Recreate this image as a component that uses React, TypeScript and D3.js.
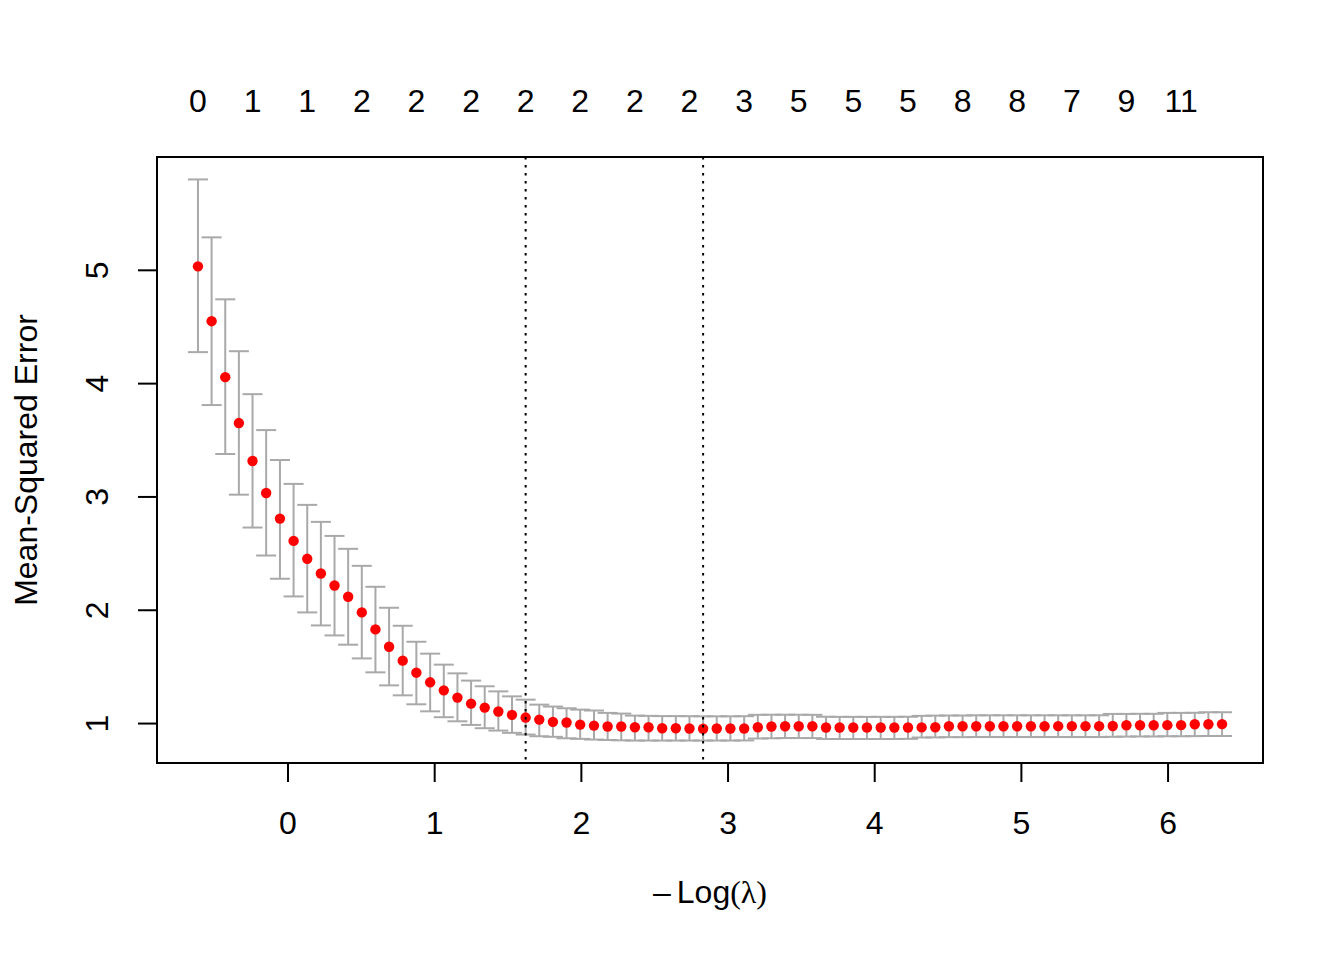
import { useEffect } from 'react'
import * as d3 from 'd3'

// -log(lambda) for each fit on the path
const negLogLambda = [
  -0.614, -0.521, -0.428, -0.335, -0.242, -0.149, -0.055, 0.038, 0.131, 0.224,
  0.317, 0.41, 0.503, 0.596, 0.689, 0.782, 0.875, 0.969, 1.062, 1.155,
  1.248, 1.341, 1.434, 1.527, 1.62, 1.713, 1.806, 1.899, 1.992, 2.086,
  2.179, 2.272, 2.365, 2.458, 2.551, 2.644, 2.737, 2.83, 2.923, 3.016,
  3.11, 3.203, 3.296, 3.389, 3.482, 3.575, 3.668, 3.761, 3.854, 3.947,
  4.041, 4.134, 4.227, 4.32, 4.413, 4.506, 4.599, 4.692, 4.785, 4.878,
  4.971, 5.065, 5.158, 5.251, 5.344, 5.437, 5.53, 5.623, 5.716, 5.809,
  5.902, 5.995, 6.089, 6.182, 6.275, 6.368,
]

// cross-validated mean-squared error
const cvm = [
  5.035, 4.551, 4.057, 3.652, 3.317, 3.035, 2.809, 2.612, 2.454, 2.324,
  2.218, 2.119, 1.981, 1.831, 1.678, 1.555, 1.449, 1.364, 1.293, 1.229,
  1.176, 1.141, 1.106, 1.077, 1.053, 1.035, 1.015, 1.009, 0.991, 0.982,
  0.974, 0.974, 0.967, 0.967, 0.959, 0.959, 0.956, 0.954, 0.956, 0.956,
  0.956, 0.967, 0.974, 0.976, 0.976, 0.976, 0.965, 0.965, 0.965, 0.965,
  0.965, 0.965, 0.965, 0.966, 0.967, 0.976, 0.976, 0.976, 0.976, 0.976,
  0.976, 0.976, 0.976, 0.977, 0.977, 0.977, 0.977, 0.978, 0.985, 0.985,
  0.985, 0.986, 0.986, 0.994, 0.994, 0.995,
]

// cvm + cvsd
const cvup = [
  5.802, 5.291, 4.744, 4.286, 3.907, 3.59, 3.326, 3.115, 2.93, 2.78,
  2.656, 2.542, 2.392, 2.207, 2.022, 1.863, 1.722, 1.617, 1.52, 1.443,
  1.379, 1.329, 1.284, 1.24, 1.211, 1.167, 1.15, 1.135, 1.123, 1.115,
  1.094, 1.088, 1.07, 1.068, 1.066, 1.066, 1.065, 1.064, 1.064, 1.064,
  1.065, 1.077, 1.078, 1.078, 1.078, 1.077, 1.06, 1.059, 1.059, 1.059,
  1.059, 1.059, 1.06, 1.068, 1.07, 1.071, 1.071, 1.073, 1.073, 1.073,
  1.073, 1.073, 1.073, 1.073, 1.073, 1.073, 1.073, 1.085, 1.085, 1.086,
  1.086, 1.094, 1.094, 1.095, 1.1, 1.1,
]

// cvm - cvsd
const cvlo = [
  4.278, 3.811, 3.379, 3.02, 2.73, 2.483, 2.278, 2.122, 1.981, 1.866,
  1.778, 1.696, 1.575, 1.452, 1.337, 1.249, 1.17, 1.108, 1.056, 1.02,
  0.988, 0.959, 0.938, 0.918, 0.903, 0.888, 0.883, 0.87, 0.865, 0.859,
  0.855, 0.852, 0.85, 0.85, 0.85, 0.85, 0.85, 0.85, 0.85, 0.85,
  0.851, 0.868, 0.87, 0.872, 0.872, 0.872, 0.864, 0.864, 0.864, 0.864,
  0.864, 0.864, 0.865, 0.877, 0.878, 0.88, 0.88, 0.881, 0.881, 0.881,
  0.881, 0.881, 0.881, 0.881, 0.881, 0.881, 0.881, 0.883, 0.885, 0.886,
  0.886, 0.888, 0.888, 0.889, 0.89, 0.89,
]

// number of nonzero coefficients, shown at every 4th lambda
const nzeroShown = ['0', '1', '1', '2', '2', '2', '2', '2', '2', '2', '3', '5', '5', '5', '8', '8', '7', '9', '11']
const nzeroStep = 4

const lambda1se = 1.62
const lambdaMin = 2.83

const xTicks = [0, 1, 2, 3, 4, 5, 6]
const yTicks = [1, 2, 3, 4, 5]

const width = 1344
const height = 960
const plot = { left: 157, right: 1263, top: 157, bottom: 763 }
const font = '"Liberation Sans", Arial, sans-serif'
const serif = '"Liberation Serif", "DejaVu Serif", serif'
const fs = 32

export default function App() {
  useEffect(() => {
    document.body.style.margin = '0'
  }, [])

  // R style 4% axis padding
  const xExt = d3.extent(negLogLambda) as [number, number]
  const xPad = (xExt[1] - xExt[0]) * 0.04
  const x = d3.scaleLinear()
    .domain([xExt[0] - xPad, xExt[1] + xPad])
    .range([plot.left, plot.right])

  const yMin = d3.min(cvlo) as number
  const yMax = d3.max(cvup) as number
  const yPad = (yMax - yMin) * 0.04
  const y = d3.scaleLinear()
    .domain([yMin - yPad, yMax + yPad])
    .range([plot.bottom, plot.top])

  const capW = 10

  return (
    <svg width={width} height={height} style={{ display: 'block', background: '#fff' }}>
      {/* error bars */}
      <g stroke="#A9A9A9" strokeWidth={2} fill="none">
        {negLogLambda.map((lx, i) => {
          const cx = x(lx)
          return (
            <g key={i}>
              <line x1={cx} x2={cx} y1={y(cvup[i])} y2={y(cvlo[i])} />
              <line x1={cx - capW} x2={cx + capW} y1={y(cvup[i])} y2={y(cvup[i])} />
              <line x1={cx - capW} x2={cx + capW} y1={y(cvlo[i])} y2={y(cvlo[i])} />
            </g>
          )
        })}
      </g>

      {/* mean points */}
      <g fill="#FF0000">
        {negLogLambda.map((lx, i) => (
          <circle key={i} cx={x(lx)} cy={y(cvm[i])} r={5.2} />
        ))}
      </g>

      {/* lambda.min and lambda.1se */}
      {[lambda1se, lambdaMin].map((v, i) => (
        <line key={i} x1={x(v)} x2={x(v)} y1={plot.top} y2={plot.bottom}
          stroke="#000" strokeWidth={2} strokeDasharray="2.5,5.5" />
      ))}

      {/* box */}
      <rect x={plot.left} y={plot.top} width={plot.right - plot.left} height={plot.bottom - plot.top}
        fill="none" stroke="#000" strokeWidth={2} />

      {/* x axis */}
      <g fontFamily={font} fontSize={fs} textAnchor="middle">
        {xTicks.map(t => (
          <g key={t}>
            <line x1={x(t)} x2={x(t)} y1={plot.bottom} y2={plot.bottom + 19} stroke="#000" strokeWidth={2} />
            <text x={x(t)} y={834}>{t}</text>
          </g>
        ))}
      </g>

      {/* y axis */}
      <g fontFamily={font} fontSize={fs} textAnchor="middle">
        {yTicks.map(t => (
          <g key={t}>
            <line x1={plot.left - 19} x2={plot.left} y1={y(t)} y2={y(t)} stroke="#000" strokeWidth={2} />
            <text transform={`translate(108,${y(t)}) rotate(-90)`}>{t}</text>
          </g>
        ))}
      </g>

      {/* top: nonzero counts */}
      <g fontFamily={font} fontSize={fs} textAnchor="middle">
        {nzeroShown.map((lab, i) => (
          <text key={i} x={x(negLogLambda[i * nzeroStep])} y={112}>{lab}</text>
        ))}
      </g>

      {/* axis titles */}
      <text x={(plot.left + plot.right) / 2} y={903} textAnchor="middle" fontFamily={font} fontSize={fs}>
        <tspan>{'\u2013'}</tspan>
        <tspan dx={6}>Log</tspan>
        <tspan fontFamily={serif}>(</tspan>
        <tspan fontFamily={serif} fontStyle="normal">λ</tspan>
        <tspan fontFamily={serif}>)</tspan>
      </text>
      <text transform={`translate(37,${(plot.top + plot.bottom) / 2}) rotate(-90)`}
        textAnchor="middle" fontFamily={font} fontSize={fs}>
        Mean-Squared Error
      </text>
    </svg>
  )
}
